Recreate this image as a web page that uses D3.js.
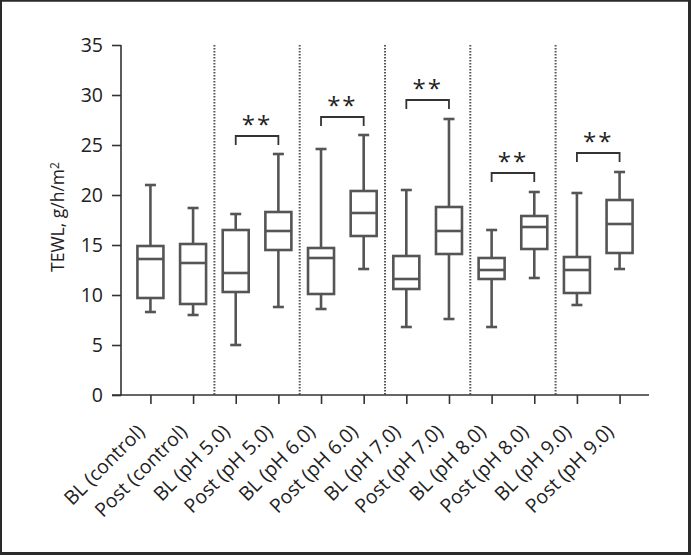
<!DOCTYPE html>
<html>
<head>
<meta charset="utf-8">
<script src="https://cdn.jsdelivr.net/npm/d3@7"></script>
<style>
  html, body { margin: 0; padding: 0; background: #fff; }
  svg { display: block; }
  text { font-family: "Open Sans", "Noto Sans", sans-serif; fill: #222; }
</style>
</head>
<body>
<svg id="chart" width="691" height="555"></svg>
<script>
// ---- data ----
const categories = ["BL (control)", "Post (control)", "BL (pH 5.0)", "Post (pH 5.0)",
  "BL (pH 6.0)", "Post (pH 6.0)", "BL (pH 7.0)", "Post (pH 7.0)",
  "BL (pH 8.0)", "Post (pH 8.0)", "BL (pH 9.0)", "Post (pH 9.0)"];
const whiskerLow  = [8.3, 8.0, 5.0, 8.8, 8.6, 12.6, 6.8, 7.6, 6.8, 11.7, 9.0, 12.6];
const q1          = [9.7, 9.1, 10.3, 14.5, 10.1, 15.9, 10.6, 14.1, 11.6, 14.6, 10.2, 14.2];
const median      = [13.6, 13.2, 12.2, 16.4, 13.7, 18.2, 11.6, 16.4, 12.5, 16.8, 12.5, 17.1];
const q3          = [14.9, 15.1, 16.5, 18.3, 14.7, 20.4, 13.9, 18.8, 13.7, 17.9, 13.8, 19.5];
const whiskerHigh = [21.0, 18.7, 18.1, 24.1, 24.6, 26.0, 20.5, 27.6, 16.5, 20.3, 20.2, 22.3];
const yTicks = [0, 5, 10, 15, 20, 25, 30, 35];
// significance brackets: pair of category indices and bracket level
const sigPairs  = [[2, 3], [4, 5], [6, 7], [8, 9], [10, 11]];
const sigLevels = [25.9, 27.8, 29.5, 22.2, 24.2];
const sigLabel  = "**";

// ---- layout ----
const W = 691, H = 555;
const svg = d3.select("#chart");
const x = d3.scalePoint().domain(categories).range([121, 649]).padding(0.69);
const y = d3.scaleLinear().domain([0, 35]).range([395, 45]);

const boxW = 26, capW = 11;
const axisColor = "#333", boxColor = "#555";

// outer frame
svg.append("rect").attr("x", 1).attr("y", 0.75).attr("width", W - 2.5).attr("height", H - 2.5)
  .attr("fill", "none").attr("stroke", "#2a2a2a").attr("stroke-width", 2);
svg.append("line").attr("x1", W - 1.5).attr("x2", W - 1.5).attr("y1", 0).attr("y2", H)
  .attr("stroke", "#2a2a2a").attr("stroke-width", 3);
svg.append("line").attr("x1", 0).attr("x2", W).attr("y1", H - 1.5).attr("y2", H - 1.5)
  .attr("stroke", "#2a2a2a").attr("stroke-width", 3);

// dotted group dividers
const dividers = [1, 3, 5, 7, 9].map(i => (x(categories[i]) + x(categories[i + 1])) / 2);
svg.append("g").selectAll("line").data(dividers).join("line")
  .attr("x1", d => d).attr("x2", d => d)
  .attr("y1", y(35)).attr("y2", y(0))
  .attr("stroke", "#555").attr("stroke-width", 2).attr("stroke-dasharray", "1.5,1.5");

// y axis
const yAxis = svg.append("g").attr("transform", "translate(121,0)")
  .call(d3.axisLeft(y).tickValues(yTicks).tickSize(9).tickPadding(9).tickSizeOuter(0));
yAxis.select(".domain").remove();
yAxis.selectAll(".tick line").attr("stroke", axisColor).attr("stroke-width", 1.6);
yAxis.selectAll(".tick text").style("font-size", "19.5px").style("font-family", '"Open Sans", sans-serif').attr("fill", "#222");
svg.append("line").attr("x1", 121).attr("x2", 121).attr("y1", y(35)).attr("y2", y(0) + 0.8)
  .attr("stroke", axisColor).attr("stroke-width", 1.6);

// x axis
const xAxis = svg.append("g").attr("transform", "translate(0,395)")
  .call(d3.axisBottom(x).tickSize(9).tickSizeOuter(0));
xAxis.select(".domain").remove();
xAxis.selectAll(".tick line").attr("stroke", axisColor).attr("stroke-width", 1.6);
xAxis.selectAll(".tick text")
  .style("font-size", "19.5px").style("font-family", '"Open Sans", sans-serif').attr("fill", "#222")
  .attr("text-anchor", "end").attr("x", 0).attr("y", 0).attr("dy", "0.35em")
  .attr("transform", "translate(-10,33) rotate(-45)");
svg.append("line").attr("x1", 112).attr("x2", 649).attr("y1", 395).attr("y2", 395)
  .attr("stroke", axisColor).attr("stroke-width", 1.6);

// y axis title
const title = svg.append("text")
  .attr("transform", `translate(64,${(y(0) + y(35)) / 2 - 3}) rotate(-90)`)
  .attr("text-anchor", "middle").style("font-size", "17.5px");
title.append("tspan").text("TEWL, g/h/m");
title.append("tspan").attr("dy", "-0.45em").style("font-size", "12px").text("2");

// boxes
const boxes = svg.append("g").selectAll("g").data(categories).join("g")
  .attr("transform", d => `translate(${x(d)},0)`);
boxes.append("line").attr("x1", 0).attr("x2", 0)
  .attr("y1", (d, i) => y(whiskerHigh[i])).attr("y2", (d, i) => y(q3[i]));
boxes.append("line").attr("x1", 0).attr("x2", 0)
  .attr("y1", (d, i) => y(q1[i])).attr("y2", (d, i) => y(whiskerLow[i]));
boxes.append("line").attr("x1", -capW / 2).attr("x2", capW / 2)
  .attr("y1", (d, i) => y(whiskerHigh[i])).attr("y2", (d, i) => y(whiskerHigh[i]));
boxes.append("line").attr("x1", -capW / 2).attr("x2", capW / 2)
  .attr("y1", (d, i) => y(whiskerLow[i])).attr("y2", (d, i) => y(whiskerLow[i]));
boxes.append("rect").attr("x", -boxW / 2).attr("width", boxW)
  .attr("y", (d, i) => y(q3[i])).attr("height", (d, i) => y(q1[i]) - y(q3[i]))
  .attr("fill", "#fff");
boxes.append("line").attr("x1", -boxW / 2).attr("x2", boxW / 2)
  .attr("y1", (d, i) => y(median[i])).attr("y2", (d, i) => y(median[i]));
boxes.selectAll("line, rect").attr("stroke", boxColor).attr("stroke-width", 2.6);

// significance brackets
const sig = svg.append("g").selectAll("g").data(sigPairs).join("g");
sig.append("path")
  .attr("d", (p, i) => {
    const x1 = x(categories[p[0]]), x2 = x(categories[p[1]]), yy = y(sigLevels[i]);
    return `M${x1},${yy + 9}V${yy}H${x2}V${yy + 9}`;
  })
  .attr("fill", "none").attr("stroke", "#333").attr("stroke-width", 1.8);
sig.append("text")
  .attr("x", p => (x(categories[p[0]]) + x(categories[p[1]])) / 2)
  .attr("y", (p, i) => y(sigLevels[i]) - 3)
  .attr("text-anchor", "middle").style("font-size", "24px").style("letter-spacing", "2px")
  .text(sigLabel);
</script>
</body>
</html>
